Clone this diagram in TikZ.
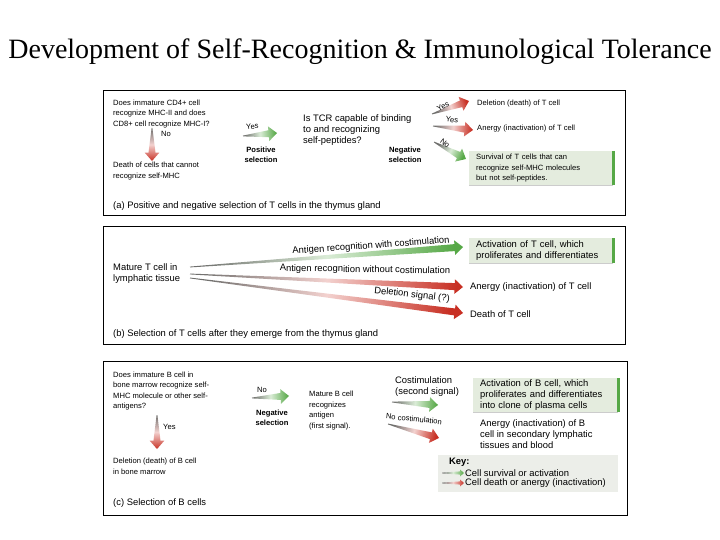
\documentclass[tikz,border=0pt]{standalone}
\usepackage{fontspec}
\setmainfont{Liberation Sans}
\newfontfamily\titlefont{Liberation Serif}
\usetikzlibrary{calc,positioning}

\definecolor{okgreen}{RGB}{86,168,70}
\definecolor{badred}{RGB}{200,48,36}
\definecolor{boxfill}{RGB}{228,236,222}
\definecolor{keyfill}{RGB}{236,238,233}
\definecolor{tailgray}{RGB}{110,110,108}

% tapered arrow: from, to, colour, half width of the shaft
\newcommand\tarrow[4]{%
  \pgfmathanglebetweenpoints{\pgfpointanchor{#1}{center}}{\pgfpointanchor{#2}{center}}%
  \pgfmathsetmacro\arang{\pgfmathresult+90}%
  \pgfmathsetmacro\arhw{#4}%
  \pgfmathsetmacro\arhh{2.1*#4}%
  \pgfmathsetmacro\arhl{2.4*#4}%
  \coordinate (hb) at ($(#2)!\arhl pt!(#1)$);
  \shade[left color=tailgray, right color=#3, middle color=#3!22!white, shading angle=\arang]
    ($(#1)!0.4pt!90:(#2)$) -- ($(hb)!\arhw pt!90:(#2)$) -- ($(hb)!\arhh pt!90:(#2)$) -- (#2)
    -- ($(hb)!\arhh pt!-90:(#2)$) -- ($(hb)!\arhw pt!-90:(#2)$) -- ($(#1)!0.4pt!-90:(#2)$) -- cycle;
}

\begin{document}
\begin{tikzpicture}[x=1pt,y=-1pt,
  txt/.style={anchor=west,align=left,inner sep=0pt,font=\fontsize{7.6}{10.5}\selectfont},
  txtb/.style={txt,font=\fontsize{9.4}{11}\selectfont},
  bold/.style={align=center,inner sep=0pt,font=\fontsize{7.6}{10.5}\selectfont\bfseries},
  panel/.style={draw=black,line width=0.8pt},
  goodbox/.style={anchor=north west,fill=boxfill,inner xsep=7pt,inner ysep=0pt,align=left},
  greenbar/.style={okgreen,line width=3pt}]
  \useasboundingbox (0,0) rectangle (720,540);
  % \draw[thin,gray!40] (0,0) grid[step=20] (720,540);
  \node[font=\titlefont\fontsize{28}{30}\selectfont] (title) at (360,52) {Development of Self-Recognition \& Immunological Tolerance};

  % (a) thymus
  \draw[panel] (103,90) rectangle (625,215);
  \node[txt] (qA) at (113,114) {Does immature CD4+ cell\\recognize MHC-II and does\\CD8+ cell recognize MHC-I?};
  \coordinate (a1s) at (152,128); \coordinate (a1e) at (152,161);
  \tarrow{a1s}{a1e}{badred}{3.5}
  \node[txt] (noA) at (161,134) {No};
  \node[txt] (deadA) at (113,171) {Death of cells that cannot\\recognize self-MHC};
  \coordinate (a2s) at (243,136); \coordinate (a2e) at (277,133);
  \tarrow{a2s}{a2e}{okgreen}{3.5}
  \node[txt,rotate=5] (yesA) at (246,127) {Yes};
  \node[bold] (posA) at (261,155) {Positive\\selection};
  \node[txtb] (tcr) at (303,130) {Is TCR capable of binding\\to and recognizing\\self-peptides?};
  \node[bold] (negA) at (405,155) {Negative\\selection};
  \coordinate (a3s) at (432,114); \coordinate (a3e) at (469,101);
  \tarrow{a3s}{a3e}{badred}{3.5}
  \node[txt,anchor=center,rotate=28] (yesA1) at (443,106) {Yes};
  \coordinate (a4s) at (433,126); \coordinate (a4e) at (473,130);
  \tarrow{a4s}{a4e}{badred}{3.5}
  \node[txt,anchor=center,rotate=-6] (yesA2) at (452,120) {Yes};
  \coordinate (a5s) at (434,142); \coordinate (a5e) at (466,159);
  \tarrow{a5s}{a5e}{okgreen}{3.5}
  \node[txt,anchor=center,rotate=-38,inner sep=0pt] (noA2) at (445,143) {No};
  \node[txt] (delT) at (477,104) {Deletion (death) of T cell};
  \node[txt] (anT) at (477,129) {Anergy (inactivation) of T cell};
  \node[goodbox,font=\fontsize{7.6}{10.5}\selectfont,minimum width=144,minimum height=34,text width=130] (survT) at (469,151) {Survival of T cells that can\\recognize self-MHC molecules\\but not self-peptides.};
  \draw[greenbar] (survT.north east) -- (survT.south east);
  \draw[gray!40] (survT.south west) -- (survT.south east);
  \node[txtb] (capA) at (113,206) {(a) Positive and negative selection of T cells in the thymus gland};

  % (b) periphery
  \draw[panel] (103,226) rectangle (625,344);
  \node[txtb] (matT) at (113,273.5) {Mature T cell in\\lymphatic tissue};
  \coordinate (b1s) at (190,267); \coordinate (b1e) at (463,247);
  \coordinate (b2s) at (190,274); \coordinate (b2e) at (463,287);
  \coordinate (b3s) at (190,278); \coordinate (b3e) at (463,313);
  \tarrow{b1s}{b1e}{okgreen}{3.5}
  \tarrow{b2s}{b2e}{badred}{3.5}
  \tarrow{b3s}{b3e}{badred}{3.5}
  \node[txtb,anchor=center,rotate=4] (withC) at (371,246) {Antigen recognition with costimulation};
  \node[txtb,anchor=center,rotate=-1] (withoutC) at (365,270) {Antigen recognition without costimulation};
  \node[txtb,anchor=center,rotate=-6] (delSig) at (412,295) {Deletion signal (?)};
  \node[goodbox,font=\fontsize{9.4}{11}\selectfont,minimum width=144,minimum height=25,text width=130] (actT) at (469,238) {Activation of T cell, which\\proliferates and differentiates};
  \draw[greenbar] (actT.north east) -- (actT.south east);
  \draw[gray!40] (actT.south west) -- (actT.south east);
  \node[txtb] (anT2) at (470,287) {Anergy (inactivation) of T cell};
  \node[txtb] (deathT) at (470,314) {Death of T cell};
  \node[txtb] (capB) at (113,334) {(b) Selection of T cells after they emerge from the thymus gland};

  % (c) B cells
  \draw[panel] (103,361) rectangle (627,515);
  \node[txt] (qB) at (113,391) {Does immature B cell in\\bone marrow recognize self-\\MHC molecule or other self-\\antigens?};
  \coordinate (c1s) at (157,415); \coordinate (c1e) at (157,449);
  \tarrow{c1s}{c1e}{badred}{3.5}
  \node[txt] (yesB) at (163,427) {Yes};
  \node[txt] (delB) at (113,466.5) {Deletion (death) of B cell\\in bone marrow};
  \node[txtb] (capC) at (113,503) {(c) Selection of B cells};
  \coordinate (c2s) at (252,398); \coordinate (c2e) at (289,396);
  \tarrow{c2s}{c2e}{okgreen}{3.5}
  \node[txt] (noB) at (257,390) {No};
  \node[bold] (negC) at (272,418) {Negative\\selection};
  \node[txt] (matB) at (309,410.5) {Mature B cell\\recognizes\\antigen\\(first signal).};
  \node[txtb] (costim) at (395,386.5) {Costimulation\\(second signal)};
  \coordinate (c3s) at (392,402); \coordinate (c3e) at (438,405);
  \tarrow{c3s}{c3e}{okgreen}{3.5}
  \node[txt,anchor=center,rotate=-6] (noCo) at (414,419) {No costimulation};
  \coordinate (c4s) at (388,424); \coordinate (c4e) at (439,438);
  \tarrow{c4s}{c4e}{badred}{3.5}
  \node[goodbox,font=\fontsize{9.4}{11}\selectfont,minimum width=145,minimum height=34,text width=131] (actB) at (473,378) {Activation of B cell, which\\proliferates and differentiates\\into clone of plasma cells};
  \draw[greenbar] (actB.north east) -- (actB.south east);
  \draw[gray!40] (actB.south west) -- (actB.south east);
  \node[txtb] (anB) at (480,434.5) {Anergy (inactivation) of B\\cell in secondary lymphatic\\tissues and blood};
  \fill[keyfill] (438,455) rectangle (618,492);
  \node[txtb,font=\fontsize{9.4}{11}\selectfont\bfseries] (key) at (449,462) {Key:};
  \coordinate (k1s) at (442,473); \coordinate (k1e) at (464,473);
  \coordinate (k2s) at (442,483); \coordinate (k2e) at (464,483);
  \tarrow{k1s}{k1e}{okgreen}{1.6}
  \tarrow{k2s}{k2e}{badred}{1.6}
  \node[txtb] (keyG) at (465,473) {Cell survival or activation};
  \node[txtb] (keyR) at (465,483) {Cell death or anergy (inactivation)};
\end{tikzpicture}
\end{document}
